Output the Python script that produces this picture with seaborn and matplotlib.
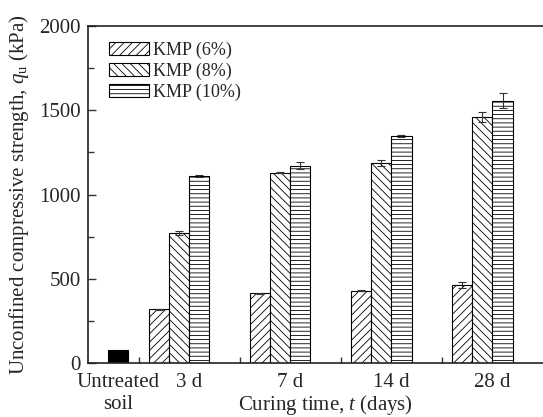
import numpy as np
import pandas as pd
import seaborn as sns
import matplotlib
matplotlib.use("Agg")
import matplotlib.pyplot as plt
from matplotlib.patches import Patch
from matplotlib.ticker import MultipleLocator, FixedLocator

# ---- data ----
curing_labels = ["3 d", "7 d", "14 d", "28 d"]
untreated_label = "Untreated\nsoil"
untreated_value = [75]
series_names = ["KMP (6%)", "KMP (8%)", "KMP (10%)"]
kmp6 = [320, 414, 429, 463]
kmp8 = [773, 1129, 1185, 1458]
kmp10 = [1108, 1171, 1349, 1557]
kmp6_err = [3, 3, 3, 17]
kmp8_err = [11, 3, 17, 30]
kmp10_err = [5, 21, 5, 45]
y_ticks = [0, 500, 1000, 1500, 2000]

sns.set_theme(style="ticks")
plt.rcParams["font.family"] = ["Liberation Serif", "DejaVu Serif"]
plt.rcParams["mathtext.fontset"] = "custom"
plt.rcParams["mathtext.rm"] = "Liberation Serif"
plt.rcParams["mathtext.it"] = "Liberation Serif:italic"
plt.rcParams["hatch.linewidth"] = 0.6

fig = plt.figure(figsize=(5.43, 4.17), dpi=100)
ax = fig.add_axes([88 / 543, 1 - 363 / 417, 1 - 88 / 543, (363 - 26) / 417])

values = [kmp6, kmp8, kmp10]
errs = [kmp6_err, kmp8_err, kmp10_err]
hatches = ["////", "\\\\\\\\", "----"]
offsets = [-0.2, 0.0, 0.2]
groups = np.arange(1, len(curing_labels) + 1)
bar_w = 0.2
untreated_pos = 0.4

# untreated soil bar
df_u = pd.DataFrame({"pos": [untreated_pos], "qu": untreated_value})
sns.barplot(data=df_u, x="pos", y="qu", native_scale=True, width=bar_w,
            color="black", edgecolor="black", linewidth=0.8, errorbar=None,
            saturation=1, ax=ax)

for name, vals, err, h, off in zip(series_names, values, errs, hatches, offsets):
    df = pd.DataFrame({"pos": groups + off, "qu": vals})
    sns.barplot(data=df, x="pos", y="qu", native_scale=True, width=bar_w,
                color="white", edgecolor="black", linewidth=0.8, hatch=h,
                errorbar=None, saturation=1, ax=ax)
    ax.errorbar(groups + off, vals, yerr=err, fmt="none", ecolor="#333333",
                elinewidth=0.8, capsize=3, capthick=0.8, zorder=5)

ax.set_xlim(0.1, 4.6)
ax.set_ylim(0, 2000)
ax.set_yticks(y_ticks)
ax.yaxis.set_minor_locator(MultipleLocator(250))
ax.set_xticks([untreated_pos] + list(groups + 0.1))
ax.set_xticklabels([untreated_label] + curing_labels)
ax.xaxis.set_minor_locator(FixedLocator(list(groups - 0.4)))

ax.tick_params(axis="both", which="both", direction="in", labelsize=15, color="#333333")
ax.tick_params(axis="both", which="major", length=6, width=1)
ax.tick_params(axis="both", which="minor", length=4, width=1)
ax.tick_params(axis="x", which="major", length=0, pad=7)
ax.tick_params(axis="y", pad=5)

for s in ["left", "bottom", "top"]:
    ax.spines[s].set_linewidth(1.2)
    ax.spines[s].set_color("#222222")
ax.spines["right"].set_visible(False)

ax.set_ylabel(r"Unconfined compressive strength, $q_\mathrm{u}$ (kPa)", fontsize=15, labelpad=6)
ax.set_xlabel(r"Curing time, $t$ (days)", fontsize=15)
ax.xaxis.set_label_coords(0.523, -0.088)

handles = [Patch(facecolor="white", edgecolor="black", linewidth=0.8, hatch=h) for h in hatches]
ax.legend(handles, series_names, loc="upper left", bbox_to_anchor=(0.022, 0.985),
          frameon=False, fontsize=13, handlelength=2.2, handleheight=0.75,
          handletextpad=0.25, labelspacing=0.2, borderaxespad=0.2)

fig.savefig("out.png", dpi=100)
